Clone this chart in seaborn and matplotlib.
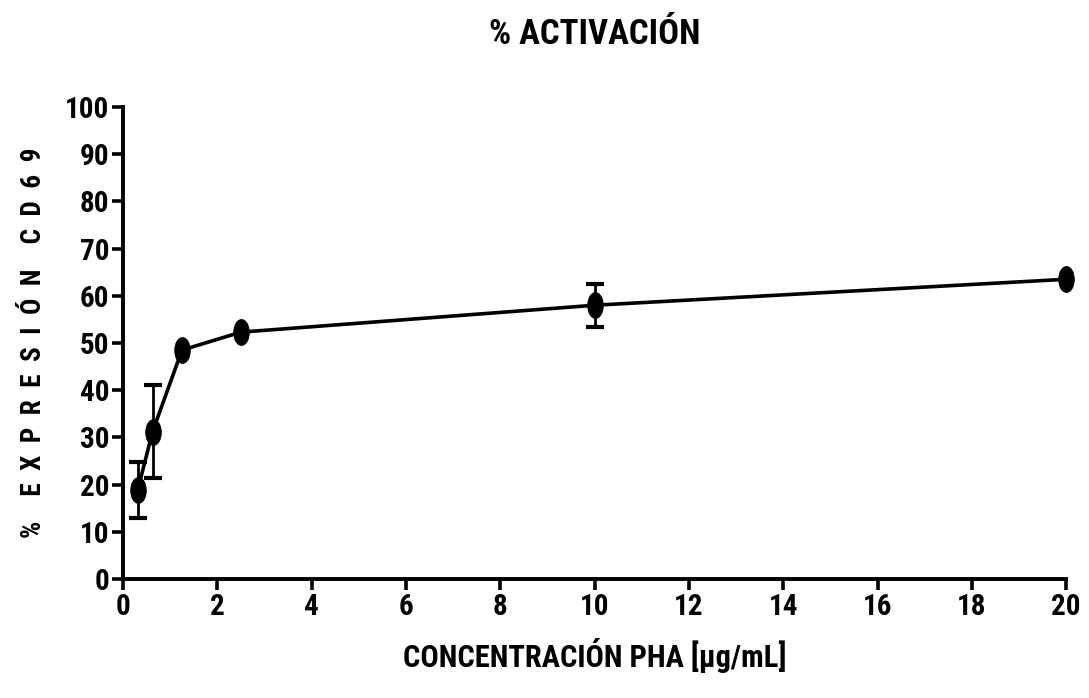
import matplotlib
matplotlib.use("Agg")
import matplotlib.pyplot as plt
import seaborn as sns
import pandas as pd
from matplotlib import font_manager
from matplotlib.path import Path
from matplotlib.transforms import Affine2D

concentracion = [0.3125, 0.625, 1.25, 2.5, 10, 20]
expresion = [18.9, 31.2, 48.5, 52.3, 58.0, 63.5]
desv = [5.9, 9.8, 0.0, 0.0, 4.6, 0.0]
x_ticks = [0, 2, 4, 6, 8, 10, 12, 14, 16, 18, 20]
y_ticks = [0, 10, 20, 30, 40, 50, 60, 70, 80, 90, 100]

sns.set_theme(style="ticks")
fonts = font_manager.fontManager.ttflist
names = {f.name for f in fonts}
stretch = "normal"
fam = "DejaVu Sans"
for cand in ["Liberation Sans Narrow", "Roboto Condensed", "Open Sans Condensed"]:
    if cand in names:
        fam = cand
        break
else:
    stretch = "condensed"
plt.rcParams["font.family"] = [fam, "DejaVu Sans"]
plt.rcParams["font.weight"] = "bold"
plt.rcParams["font.stretch"] = stretch
plt.rcParams["text.color"] = "black"
plt.rcParams["axes.labelcolor"] = "black"

df = pd.DataFrame({"conc": concentracion, "expr": expresion, "sd": desv})
err = df[df["sd"] > 0]

fig = plt.figure(figsize=(10.89, 6.98), dpi=100)
ax = fig.add_axes([0.113, 0.1705, 0.866, 0.6762])

ellipse = Path.unit_circle().transformed(Affine2D().scale(0.6, 1.0))

ax.errorbar(err["conc"], err["expr"], yerr=err["sd"], fmt="none", ecolor="black",
            elinewidth=2.0, capsize=6.5, capthick=3.0, zorder=2, clip_on=False)
sns.lineplot(data=df, x="conc", y="expr", ax=ax, color="black", linewidth=2.6,
             marker=ellipse, markersize=18.5, markeredgecolor="black",
             markerfacecolor="black", zorder=3, clip_on=False)

ax.set_xlim(0, 20)
ax.set_ylim(0, 100)
ax.set_xticks(x_ticks)
ax.set_yticks(y_ticks)
ax.set_xticklabels([str(t) for t in x_ticks], fontsize=21, fontweight="bold")
ax.set_yticklabels([str(t) for t in y_ticks], fontsize=21, fontweight="bold")
sns.despine(ax=ax)
for s in ["left", "bottom"]:
    ax.spines[s].set_linewidth(2.8)
    ax.spines[s].set_color("black")
ax.tick_params(axis="both", direction="out", length=8, width=2.6, color="black",
               pad=2, labelcolor="black")

ax.set_xlabel("CONCENTRACIÓN PHA [µg/mL]", fontsize=22, fontweight="bold", labelpad=12,
              color="black")
ax.set_ylabel("%    E  X  P  R  E  S  I  Ó  N    C  D  6  9", fontsize=19.5,
              fontweight="bold", labelpad=13, color="black")
fig.text(0.5459, 0.951, "% ACTIVACIÓN", fontsize=25, fontweight="bold",
         ha="center", va="center", color="black")

fig.savefig("out.png", dpi=100)
